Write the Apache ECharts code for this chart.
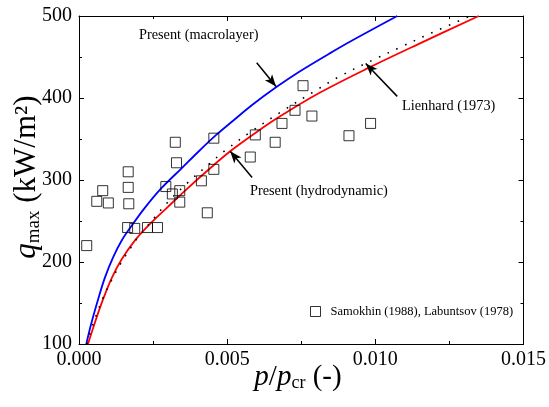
<!DOCTYPE html>
<html><head><meta charset="utf-8">
<script src="https://cdn.jsdelivr.net/npm/echarts@6/dist/echarts.min.js"></script>
<style>html,body{margin:0;padding:0;background:#fff}#c{width:549px;height:407px}</style>
</head><body><div id="c"></div>
<script>
// Present (macrolayer) curve [p/pcr, q]
const macroX = [0.000246,0.000414,0.000649,0.000874,0.001154,0.001436,0.001772,0.00222,0.002781,0.003454,0.00407,0.00463,0.00519,0.005862,0.006649,0.007433,0.008442,0.00911,0.01074];
const macroY = [100,125,155,181,206,226,244,266,290,314,336,355,372,392,413,432,454,468,500];
// Present (hydrodynamic) curve
const hydroX = [0.000303,0.000471,0.000639,0.000817,0.0011,0.001436,0.001883,0.002331,0.002993,0.003609,0.00429,0.005102,0.005976,0.00676,0.008105,0.009787,0.01147,0.01349];
const hydroY = [100,119,137,155,180,203,226,244,267,288,310,335,358,377,406,437,466,500];
// Lienhard (1973) curve
const lienX = [0.00027,0.000471,0.000807,0.001086,0.001402,0.001739,0.001927,0.002566,0.00297,0.003676,0.004406,0.004934,0.005808,0.006817,0.007937,0.008778,0.009955,0.01085,0.01175,0.0132];
const lienY = [100,124,156,177,198,217,227,255,272,297,320,336,359,383,408,426,447,462,477,500];
// Samokhin (1988), Labuntsov (1978) data
const dataX = [0.00026,0.0006,0.0008,0.00099,0.00166,0.00166,0.00168,0.00164,0.00188,0.00231,0.00265,0.00293,0.00315,0.0034,0.0034,0.00325,0.00329,0.00413,0.00433,0.00455,0.00455,0.00578,0.00595,0.00662,0.00685,0.00729,0.00756,0.00786,0.00911,0.00984];
const dataY = [220,274,287,272,310,291,271,242,241,242,242,292,283,287,273,346,321,299,260,351,313,328,355,346,369,385,415,378,354,369];
// Axis ticks
const xTicks = [0.000,0.005,0.010,0.015];
const yTicks = [100,200,300,400,500];
// Annotation arrows [tail, head] in data coordinates
const arrowMacro = [[0.005997,443],[0.006649,414]];
const arrowLien  = [[0.010739,402],[0.009676,442]];
const arrowHydro = [[0.005842,303],[0.005102,335]];

const zip = (a,b) => a.map((v,i)=>[v,b[i]]);
const F = 'Liberation Serif';
const chart = echarts.init(document.getElementById('c'), null, {renderer:'canvas'});

const axisCommon = {
  axisLine:{show:true,onZero:false,lineStyle:{color:'#000',width:1}},
  axisTick:{show:true,inside:true,length:5,lineStyle:{color:'#000'}},
  minorTick:{show:true,splitNumber:2,length:3,lineStyle:{color:'#000'}},
  splitLine:{show:false}
};
const arrowLine = (pair) => ({
  type:'line', data:[], silent:true,
  markLine:{silent:true, symbol:['none','arrow'], symbolSize:[7,12], label:{show:false},
    lineStyle:{color:'#000',width:1.5,type:'solid'},
    data:[[{coord:pair[0]},{coord:pair[1]}]]}
});
const curve = (name, xs, ys, ls) => ({name, type:'line', data:zip(xs,ys), smooth:0.35,
  showSymbol:false, lineStyle:ls, z:2});

chart.setOption({
  animation:false,
  backgroundColor:'#fff',
  grid:{left:79,right:24,top:16,bottom:63},
  xAxis:[
    Object.assign({type:'value',min:xTicks[0],max:xTicks[xTicks.length-1],interval:0.005,position:'bottom',
      axisLabel:{color:'#000',fontFamily:F,fontSize:20,margin:6,formatter:v=>v.toFixed(3)}},axisCommon),
    Object.assign({type:'value',min:xTicks[0],max:xTicks[xTicks.length-1],interval:0.005,position:'top',
      axisLabel:{show:false}},axisCommon)
  ],
  yAxis:[
    Object.assign({type:'value',min:yTicks[0],max:yTicks[yTicks.length-1],interval:100,position:'left',
      axisLabel:{color:'#000',fontFamily:F,fontSize:20,margin:7}},axisCommon),
    Object.assign({type:'value',min:yTicks[0],max:yTicks[yTicks.length-1],interval:100,position:'right',
      axisLabel:{show:false}},axisCommon)
  ],
  legend:{show:true,left:305,top:300,itemWidth:10,itemHeight:10,
    data:[{name:'Samokhin (1988), Labuntsov (1978)',icon:'rect',itemStyle:{color:'rgba(0,0,0,0)',borderColor:'#000',borderWidth:1}}],
    textStyle:{fontFamily:F,fontSize:12.5,color:'#000',padding:[0,0,0,5]}},
  series:[
    {name:'Samokhin (1988), Labuntsov (1978)',type:'scatter',data:zip(dataX,dataY),symbol:'rect',symbolSize:10,
      itemStyle:{color:'rgba(0,0,0,0)',borderColor:'#000',borderWidth:1},z:3},
    curve('Present (macrolayer)', macroX, macroY, {color:'#0000ff',width:1.8}),
    curve('Present (hydrodynamic)', hydroX, hydroY, {color:'#ff0000',width:1.8}),
    curve('Lienhard (1973)', lienX, lienY, {color:'#000',width:1.6,type:[1.6,8]}),
    arrowLine(arrowMacro), arrowLine(arrowLien), arrowLine(arrowHydro)
  ],
  graphic:[
    {type:'text',left:139,top:28,style:{text:'Present (macrolayer)',font:'14.3px "Liberation Serif"',fill:'#000'}},
    {type:'text',left:402,top:99,style:{text:'Lienhard (1973)',font:'14.3px "Liberation Serif"',fill:'#000'}},
    {type:'text',left:250,top:184,style:{text:'Present (hydrodynamic)',font:'14.3px "Liberation Serif"',fill:'#000'}},
    {type:'text',x:298,y:377,style:{text:'{i|p}{n|/}{i|p}{s|cr}{n| (-)}',align:'center',verticalAlign:'middle',fill:'#000',
      rich:{i:{fontFamily:F,fontStyle:'italic',fontSize:29},n:{fontFamily:F,fontSize:29},s:{fontFamily:F,fontSize:18,padding:[13,0,0,0]}}}},
    {type:'text',x:27,y:177,rotation:Math.PI/2,style:{text:'{i|q}{s|max}{n| (kW/m²)}',align:'center',verticalAlign:'middle',fill:'#000',
      rich:{i:{fontFamily:F,fontStyle:'italic',fontSize:31},n:{fontFamily:F,fontSize:31},s:{fontFamily:F,fontSize:19,padding:[14,0,0,0]}}}}
  ]
});
</script></body></html>
